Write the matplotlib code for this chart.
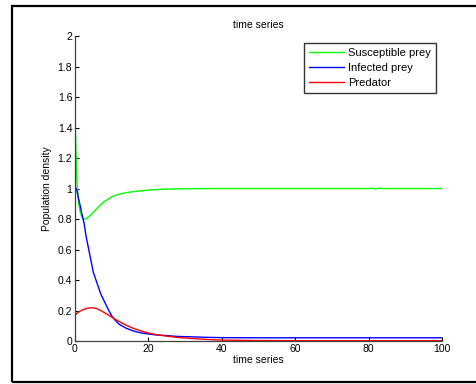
import numpy as np
import matplotlib.pyplot as plt
from matplotlib.patches import Rectangle

plt.rcParams['font.family'] = ['Liberation Sans', 'DejaVu Sans']

t = [0, 0.25, 0.5, 1, 1.5, 2, 2.5, 3, 3.5, 4, 5, 6, 7, 8, 9, 10, 11, 12, 14, 16, 18, 20, 22,
     25, 28, 32, 36, 40, 50, 60, 70, 80, 81, 82, 83, 84, 90, 100]
susceptible = [1.5, 1.25, 1.05, 0.9, 0.84, 0.81, 0.80, 0.80, 0.81, 0.82, 0.845, 0.87, 0.895,
               0.915, 0.93, 0.945, 0.955, 0.963, 0.973, 0.98, 0.985, 0.99, 0.993,
               0.996, 0.998, 0.999, 1.0, 1.0, 1.0, 1.0, 1.0, 1.0, 1.002, 0.997, 1.003, 1.0, 1.0, 1.0]
infected = [1.02, 1.0, 0.99, 0.93, 0.88, 0.82, 0.77, 0.69, 0.63, 0.57, 0.45, 0.38, 0.31, 0.26,
            0.21, 0.165, 0.135, 0.11, 0.083, 0.065, 0.053, 0.046, 0.04,
            0.035, 0.03, 0.027, 0.024, 0.022, 0.021, 0.021, 0.021, 0.021, 0.021, 0.021, 0.021,
            0.021, 0.021, 0.021]
predator = [0.17, 0.175, 0.18, 0.19, 0.197, 0.203, 0.208, 0.212, 0.215, 0.217, 0.217, 0.212,
            0.2, 0.186, 0.172, 0.157, 0.142, 0.128, 0.103, 0.082, 0.066, 0.052, 0.042,
            0.032, 0.023, 0.016, 0.01, 0.006, 0.003, 0.002, 0.002, 0.002, 0.002, 0.002, 0.002,
            0.002, 0.002, 0.002]

fig = plt.figure(figsize=(4.77, 3.84), dpi=100)
ax = fig.add_axes([0.1572, 0.112, 0.7694, 0.794])

ax.plot(t, susceptible, color='#00ff00', lw=1, label='Susceptible prey')
ax.plot(t, infected, color='#0000ff', lw=1, label='Infected prey')
ax.plot(t, predator, color='#ff0000', lw=1, label='Predator')

ax.set_xlim(0, 100)
ax.set_ylim(0, 2)
ax.set_xticks(np.arange(0, 101, 20))
ax.set_yticks(np.arange(0, 2.01, 0.2))
ax.set_yticklabels(['0', '0.2', '0.4', '0.6', '0.8', '1', '1.2', '1.4', '1.6', '1.8', '2'])
ax.tick_params(direction='in', labelsize=7.5, length=3, width=0.8, pad=2, colors='black')
for side in ['top', 'right']:
    ax.spines[side].set_visible(False)
for side in ['left', 'bottom']:
    ax.spines[side].set_color('#404040')
    ax.spines[side].set_linewidth(0.9)

ax.set_title('time series', fontsize=7.5, pad=6)
ax.set_xlabel('time series', fontsize=7.5, labelpad=1)
ax.set_ylabel('Population density', fontsize=7.5, labelpad=4)

leg = ax.legend(loc='upper right', bbox_to_anchor=(0.984, 0.978), fontsize=8, frameon=True,
                fancybox=False, borderpad=0.45, labelspacing=0.45, handlelength=3.1,
                handletextpad=0.4, borderaxespad=0)
leg.get_frame().set_edgecolor('black')
leg.get_frame().set_linewidth(1.0)

# outer frame around the figure, right side falls outside the image
fig.patches.append(Rectangle((12 / 477, 2 / 384), 1.2, 1 - 8 / 384, transform=fig.transFigure,
                             fill=False, edgecolor='black', lw=1.6))

plt.savefig('out.png', dpi=100)
